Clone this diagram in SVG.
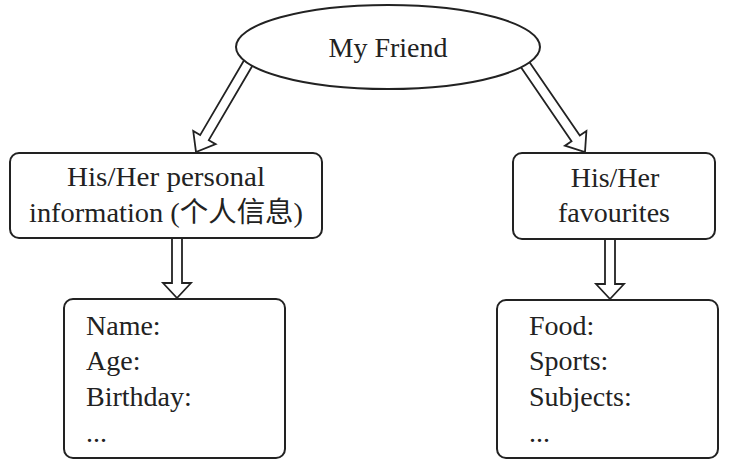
<svg xmlns="http://www.w3.org/2000/svg" width="731" height="469" viewBox="0 0 731 469">
<style>
.box{fill:#fff;stroke:#222;stroke-width:2}
.arr{fill:#fff;stroke:#222;stroke-width:1.8;stroke-linejoin:miter}
text{font-family:"Liberation Serif","Noto Sans CJK SC",serif;font-size:28px;fill:#222}
.c{text-anchor:middle}
</style>
<rect width="731" height="469" fill="#fff"/>
<g id="connectors">
<path class="arr" transform="translate(250,60) rotate(120.4)" d="M0,-5 L90,-5 L90,-13 L106.7,0 L90,13 L90,5 L0,5 Z"/>
<path class="arr" transform="translate(522,60) rotate(55.6)" d="M0,-5 L95,-5 L95,-13 L111.5,0 L95,13 L95,5 L0,5 Z"/>
<path class="arr" d="M172,236 L172,283 L163,283 L177,298 L191,283 L182,283 L182,236"/>
<path class="arr" d="M605,237 L605,284 L596,284 L610,299 L624,284 L615,284 L615,237"/>
</g>
<g id="my-friend">
<ellipse class="box" cx="388" cy="47" rx="152" ry="42"/>
<text class="c" x="388" y="57">My Friend</text>
</g>
<g id="personal-info">
<rect class="box" x="10" y="153" width="312" height="85" rx="9"/>
<text class="c" x="166" y="186" textLength="198" lengthAdjust="spacingAndGlyphs">His/Her personal</text>
<text class="c" x="166" y="222" textLength="274" lengthAdjust="spacingAndGlyphs">information (个人信息)</text>
</g>
<g id="favourites">
<rect class="box" x="513" y="153" width="202" height="86" rx="9"/>
<text class="c" x="615" y="187">His/Her</text>
<text class="c" x="614" y="222">favourites</text>
</g>
<g id="personal-details">
<rect class="box" x="64" y="299" width="221" height="159" rx="9"/>
<text x="86" y="335">Name:</text>
<text x="86" y="370">Age:</text>
<text x="86" y="406">Birthday:</text>
<text x="86" y="442">...</text>
</g>
<g id="favourite-details">
<rect class="box" x="497" y="300" width="221" height="158" rx="9"/>
<text x="529" y="335">Food:</text>
<text x="529" y="370">Sports:</text>
<text x="529" y="406">Subjects:</text>
<text x="529" y="442">...</text>
</g>
</svg>
